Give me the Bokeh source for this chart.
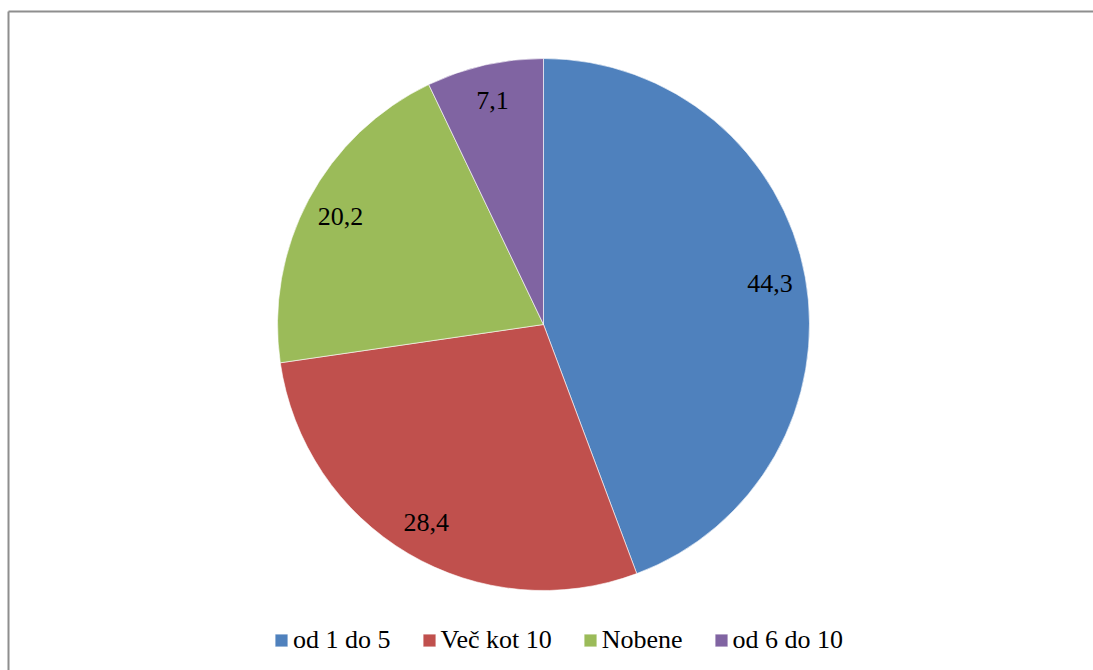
import numpy as np
from bokeh.plotting import figure
from bokeh.models import Range1d, Legend, LegendItem, ColumnDataSource
from bokeh.core.properties import value
from bokeh.embed import file_html
from bokeh.resources import INLINE

# Shares of respondents (%) per answer group
categories = ["od 1 do 5", "Več kot 10", "Nobene", "od 6 do 10"]
shares = [44.3, 28.4, 20.2, 7.1]
colors = ["#4F81BD", "#C0504D", "#9BBB59", "#8064A2"]

W, H = 1093, 670
CX, CY, R = 543, H - 324, 266
SERIF = "'Liberation Serif', serif"

vals = np.array(shares, dtype=float)
frac = vals / vals.sum()
cum_after = np.cumsum(frac)
cum_before = cum_after - frac
# slices run clockwise from twelve o'clock
a_top = np.pi / 2 - 2 * np.pi * cum_before
a_bot = np.pi / 2 - 2 * np.pi * cum_after
a_mid = (a_top + a_bot) / 2

src = ColumnDataSource(dict(
    cat=categories,
    start=a_bot,
    end=a_top,
    color=colors,
    lx=CX + 0.865 * R * np.cos(a_mid),
    ly=CY + 0.865 * R * np.sin(a_mid),
    txt=[f"{v:.1f}".replace(".", ",") for v in shares],
))

p = figure(width=W, height=H, output_backend="svg", toolbar_location=None,
           x_range=Range1d(0, W), y_range=Range1d(0, H),
           min_border=0, outline_line_color=None)
p.axis.visible = False
p.grid.visible = False
p.background_fill_color = "white"
p.border_fill_color = "white"

# chart-area frame (top and left edges visible)
p.segment(x0=[8, 8], y0=[H - 11, H - 11], x1=[W + 5, 8], y1=[H - 11, -5],
          line_color="#8e8e8e", line_width=2)

pie = p.wedge(x=CX, y=CY, radius=R, start_angle="start", end_angle="end",
              fill_color="color", line_color="white", line_width=0.6,
              source=src)

p.text(x="lx", y="ly", text="txt", source=src, text_align="center",
       text_baseline="middle", text_font=value(SERIF),
       text_font_size="26px", text_color="black")

items = [LegendItem(label=cat, renderers=[pie], index=i)
         for i, cat in enumerate(categories)]

legend = Legend(items=items, orientation="horizontal", location=(273, 15),
                glyph_width=16, glyph_height=16, label_standoff=4, spacing=30,
                padding=0, margin=0, border_line_color=None,
                background_fill_alpha=0, label_text_font=SERIF,
                label_text_font_size="26px", label_text_color="black")
p.add_layout(legend, "center")

open("out.html", "w").write(file_html(p, INLINE))
